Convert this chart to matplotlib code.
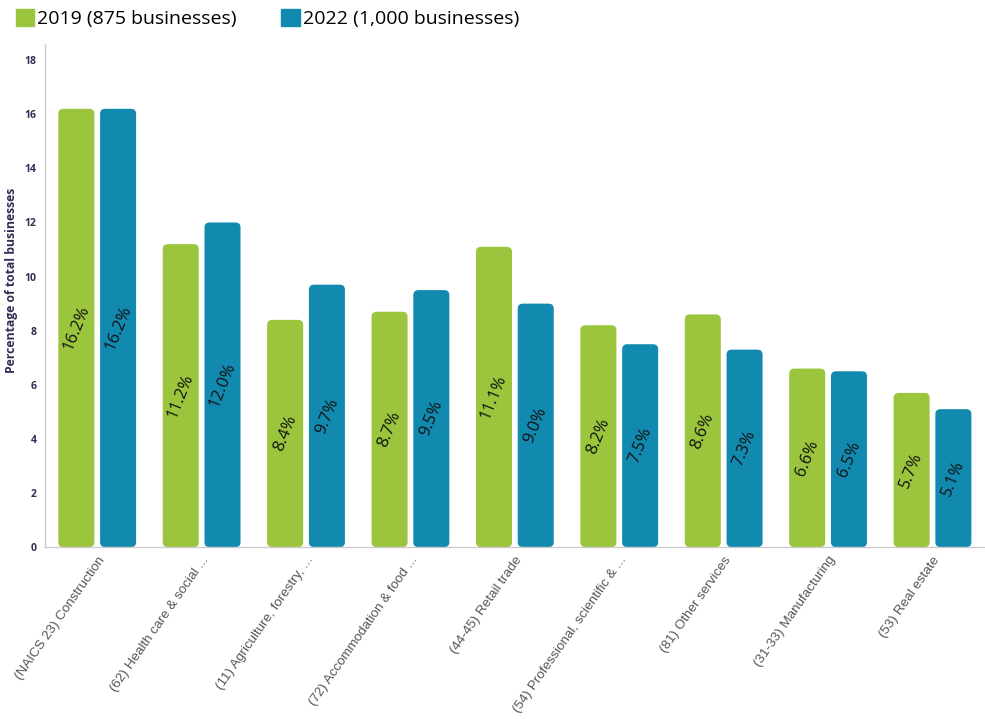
import matplotlib.pyplot as plt
import numpy as np
from matplotlib.patches import FancyBboxPatch, Patch

categories = ["(NAICS 23) Construction", "(62) Health care & social ...",
              "(11) Agriculture, forestry, ...", "(72) Accommodation & food ...",
              "(44-45) Retail trade", "(54) Professional, scientific & ...",
              "(81) Other services", "(31-33) Manufacturing", "(53) Real estate"]
pct_2019 = [16.2, 11.2, 8.4, 8.7, 11.1, 8.2, 8.6, 6.6, 5.7]
pct_2022 = [16.2, 12.0, 9.7, 9.5, 9.0, 7.5, 7.3, 6.5, 5.1]
yticks = [0, 2, 4, 6, 8, 10, 12, 14, 16, 18]

green = "#9bc53c"
blue = "#128ab0"
navy = "#2e2f52"

fig = plt.figure(figsize=(9.85, 7.19), dpi=100)
ax = fig.add_axes([0.0457, 0.239, 0.954, 0.70])

x = np.arange(len(categories))
w = 0.345
off = 0.2

for vals, col, dx in [(pct_2019, green, -off), (pct_2022, blue, off)]:
    bars = ax.bar(x + dx, vals, width=w, color=col)
    for b, v in zip(bars, vals):
        b.set_visible(False)
        rb = FancyBboxPatch((b.get_x(), 0), b.get_width(), v,
                            boxstyle="round,pad=0,rounding_size=0.05",
                            mutation_aspect=3.7, fc=col, ec="none")
        ax.add_patch(rb)
        ax.text(b.get_x() + b.get_width() / 2, v / 2, f"{v:.1f}%",
                rotation=68, ha="center", va="center", fontsize=12,
                color="#111111", family="Open Sans")

ax.set_xlim(-0.5, len(categories) - 0.5)
ax.set_ylim(0, 18.6)
ax.set_yticks(yticks)
ax.set_yticklabels([str(t) for t in yticks], fontsize=7.5, color=navy,
                   fontweight="bold", family="Open Sans")
ax.tick_params(axis="y", length=0, pad=6)
ax.tick_params(axis="x", length=0, pad=5)
ax.set_xticks(x)
ax.set_xticklabels(categories, rotation=55, ha="right", rotation_mode="anchor",
                   fontsize=9.6, color="#555555", family="Liberation Sans")
ax.set_ylabel("Percentage of total businesses", fontsize=8.8, color=navy,
              fontweight="bold", family="Open Sans")
ax.yaxis.set_label_coords(-0.029, 0.53)

for s in ["top", "right"]:
    ax.spines[s].set_visible(False)
for s in ["left", "bottom"]:
    ax.spines[s].set_color("#cccccc")
    ax.spines[s].set_linewidth(1)

handles = [Patch(color=green, label="2019 (875 businesses)"),
           Patch(color=blue, label="2022 (1,000 businesses)")]
fig.legend(handles=handles, loc="upper left", bbox_to_anchor=(-0.002, 1.012),
           ncol=2, frameon=False, handlelength=0.95, handleheight=1.0,
           handletextpad=0.15, columnspacing=2.3,
           prop={"family": "Open Sans", "size": 14})

fig.savefig("out.png", dpi=100)
